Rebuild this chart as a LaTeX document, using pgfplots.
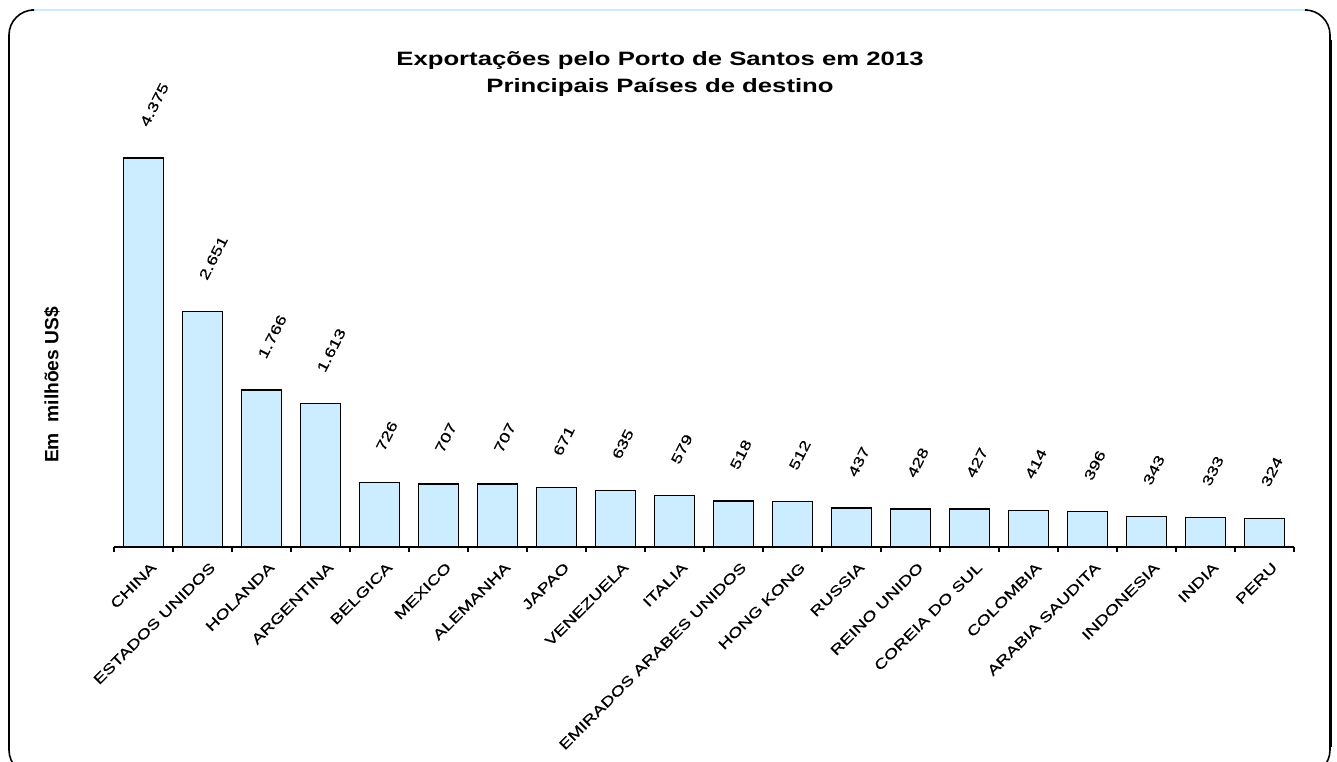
\documentclass[border=0pt]{standalone}
\usepackage{pgfplots}
\pgfplotsset{compat=1.18}
\usepackage{fontspec}
\setmainfont{Liberation Sans}
\newfontfamily\widefont{Liberation Sans}[FakeStretch=1.33]
\newfontfamily\widelbl{Liberation Sans}[FakeStretch=1.33, FakeBold=0.6]
\definecolor{barblue}{RGB}{204,236,255}
\definecolor{topblue}{RGB}{205,235,250}

\begin{document}
\begin{tikzpicture}
\begin{axis}[
    scale only axis,
    width=885pt, height=333.4pt,
    xmin=-0.5, xmax=19.5,
    ymin=0, ymax=5000,
    clip=false,
    axis x line*=bottom,
    axis y line=none,
    axis line style={line width=1.3pt},
    xtick={0,...,19},
    major tick length=0pt,
    minor xtick={-0.5,0.5,...,19.5},
    minor tick length=4pt,
    tick align=outside,
    every tick/.style={black, line width=1pt},
    xticklabels={CHINA, ESTADOS UNIDOS, HOLANDA, ARGENTINA, BELGICA, MEXICO, ALEMANHA, JAPAO, VENEZUELA, ITALIA, EMIRADOS ARABES UNIDOS, HONG KONG, RUSSIA, REINO UNIDO, COREIA DO SUL, COLOMBIA, ARABIA SAUDITA, INDONESIA, INDIA, PERU},
    xticklabel style={font=\widelbl\fontsize{10.5}{12}\selectfont, rotate=45, anchor=east, inner sep=0pt, yshift=-15pt, xshift=-4pt},
    /pgf/number format/assume math mode=true,
    nodes near coords={\pgfmathprintnumber[1000 sep={.}]{\pgfplotspointmeta}},
    every node near coord/.append style={font=\widelbl\fontsize{10.5}{12}\selectfont, yshift=24pt, rotate=63, anchor=west, inner sep=0pt},
]
\addplot[ybar, bar width=30pt, fill=barblue, draw=black, line width=1pt] coordinates {
(0,4375) (1,2651) (2,1766) (3,1613) (4,726) (5,707) (6,707) (7,671) (8,635) (9,579)
(10,518) (11,512) (12,437) (13,428) (14,427) (15,414) (16,396) (17,343) (18,333) (19,324)};
\end{axis}
% titles
\node[anchor=base, font=\widefont\bfseries\fontsize{14.5}{17}\selectfont] at (409.5pt,360.75pt) {Exportações pelo Porto de Santos em 2013};
\node[anchor=base, font=\widefont\bfseries\fontsize{14.5}{17}\selectfont] at (409.5pt,340.5pt) {Principais Países de destino};
\node[rotate=90, font=\bfseries\fontsize{14.4}{17}\selectfont] at (-46.5pt,121.5pt) {Em\ \ milhões US\$};
% frame
\draw[topblue, line width=1.5pt] (-62pt,402.75pt) -- (895pt,402.75pt);
\draw[black, line width=1.2pt, rounded corners=18.75pt] (-62pt,402.75pt) -- (-78.75pt,402.75pt) -- (-78.75pt,-171pt) -- (912pt,-171pt) -- (912pt,402.75pt) -- (895pt,402.75pt);
\draw[black, line width=2.5pt] (912.5pt,380pt) -- (912.5pt,-150pt);
\pgfresetboundingbox
\path[use as bounding box] (-85.5pt,-161.25pt) rectangle (917.25pt,410.25pt);
\end{tikzpicture}
\end{document}
